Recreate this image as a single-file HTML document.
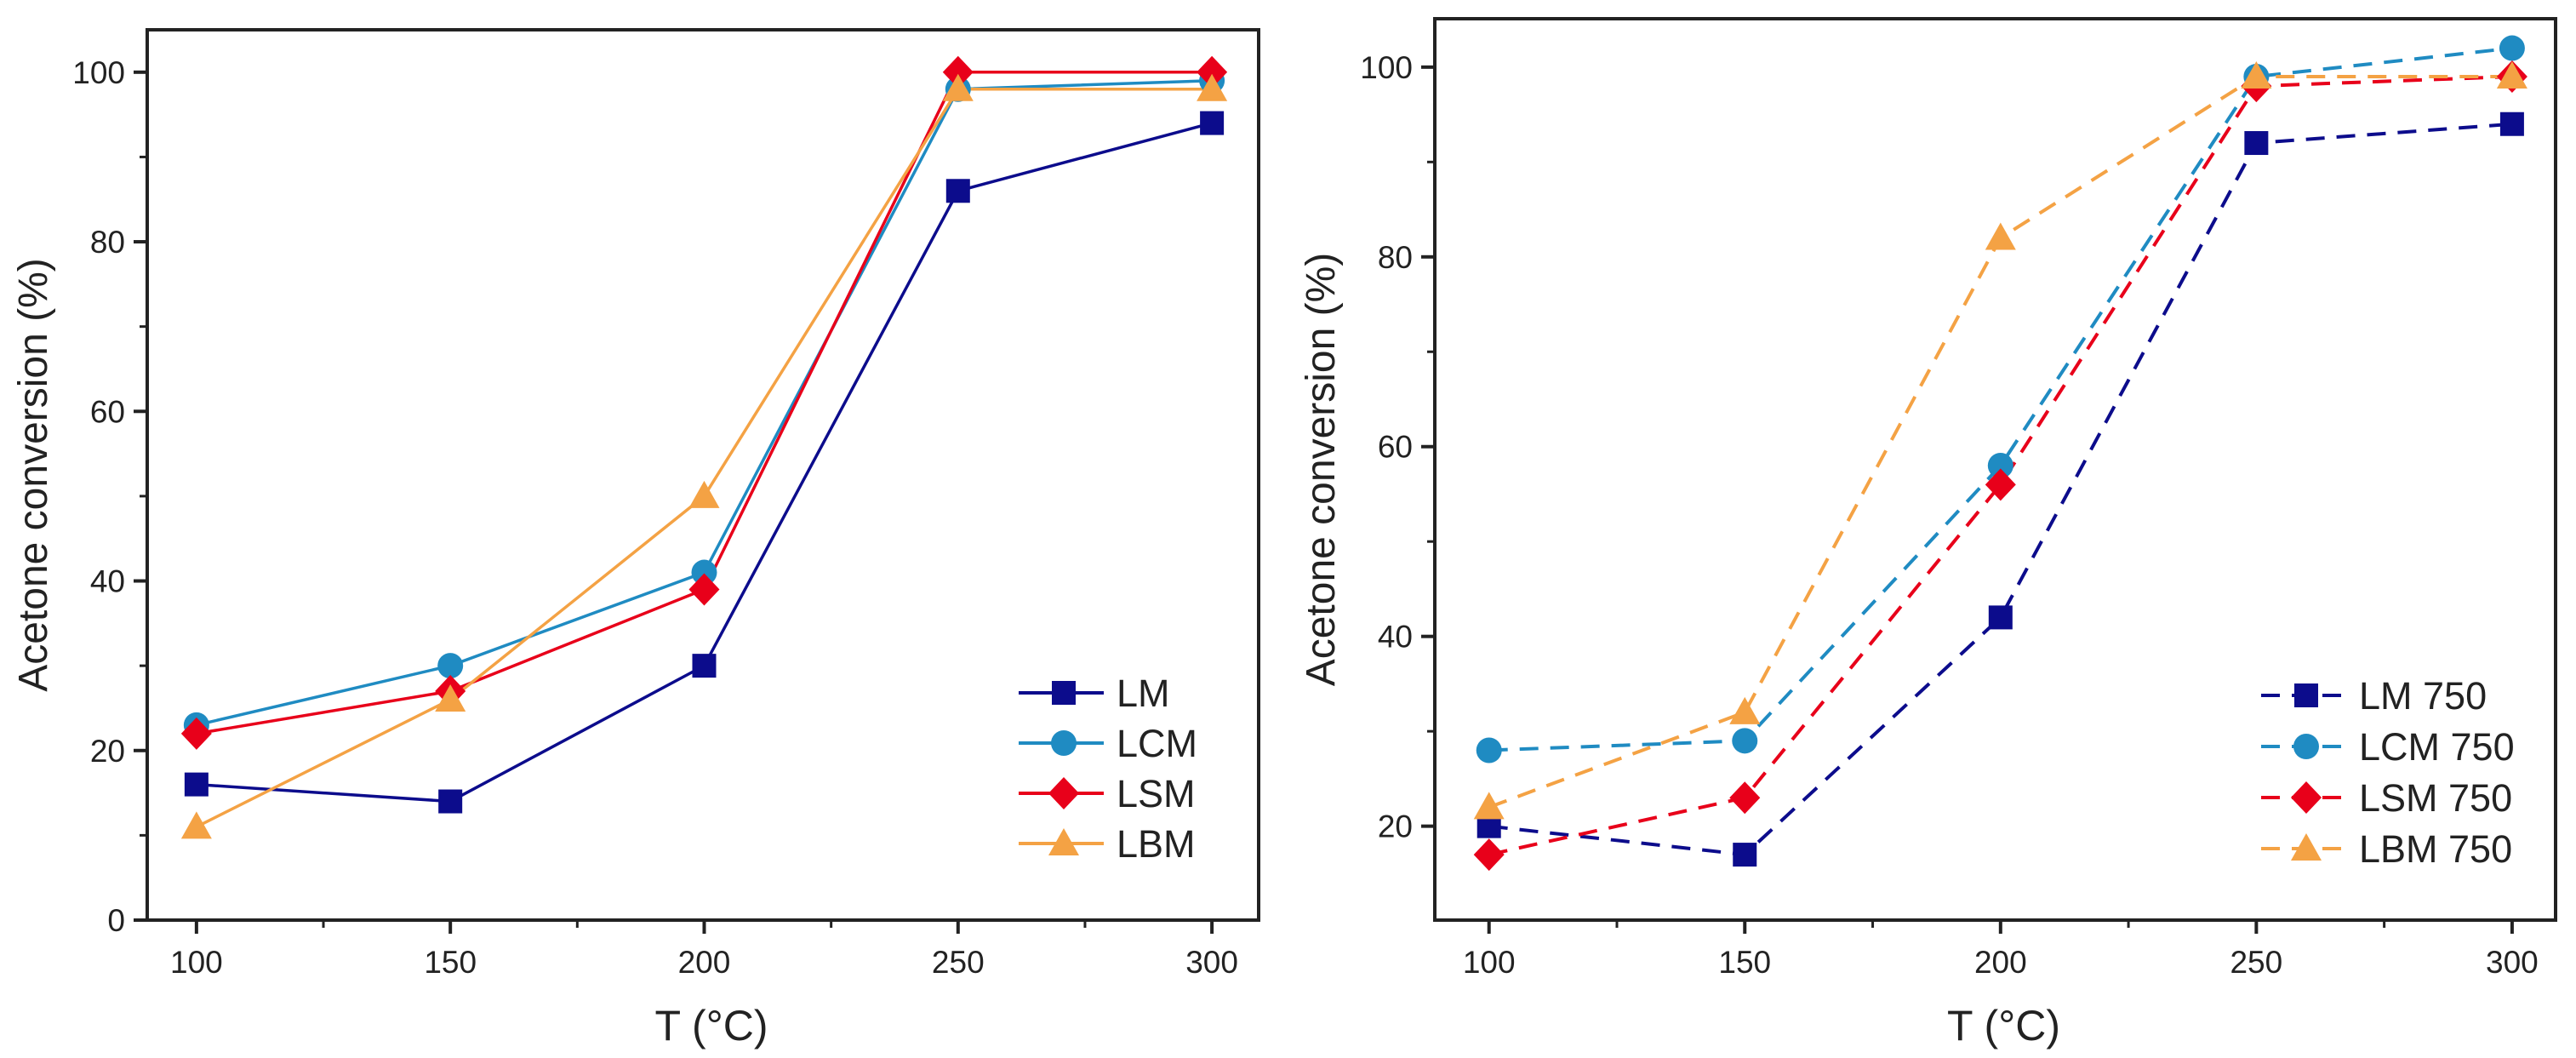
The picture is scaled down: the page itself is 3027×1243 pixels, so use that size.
<!DOCTYPE html>
<html><head><meta charset="utf-8"><style>
html,body{margin:0;padding:0;background:#fff;}
svg{display:block;font-family:"Liberation Sans",Arial,sans-serif;}
</style></head><body>
<svg id="fig" width="3027" height="1243" viewBox="0 0 3027 1243"></svg>
<script>
const xCats=[100,150,200,250,300];
const xTicks=[100,150,200,250,300];
const leftNames=["LM","LCM","LSM","LBM"];
const lmVals=[16,14,30,86,94];
const lcmVals=[23,30,41,98,99];
const lsmVals=[22,27,39,100,100];
const lbmVals=[11,26,50,98,98];
const rightNames=["LM 750","LCM 750","LSM 750","LBM 750"];
const lm750Vals=[20,17,42,92,94];
const lcm750Vals=[28,29,58,99,102];
const lsm750Vals=[17,23,56,98,99];
const lbm750Vals=[22,32,82,99,99];
const leftYTicks=[0,20,40,60,80,100];
const rightYTicks=[20,40,60,80,100];

const NS="http://www.w3.org/2000/svg";
const svg=document.getElementById('fig');
const colors=["#0c0c8c","#1f8bc2","#e8001a","#f4a244"];
const shapes=["square","circle","diamond","triangle"];
function mk(tag,attrs,parent){const e=document.createElementNS(NS,tag);for(const k in attrs)e.setAttribute(k,attrs[k]);(parent||svg).appendChild(e);return e;}

function marker(g,shape,x,y,c){
  let e;
  if(shape==="square"){e=mk('rect',{x:x-14,y:y-14,width:28,height:28,fill:c},g);}
  else if(shape==="circle"){e=mk('circle',{cx:x,cy:y,r:15,fill:c},g);}
  else if(shape==="diamond"){e=mk('polygon',{points:`${x},${y-19} ${x+18},${y} ${x},${y+19} ${x-18},${y}`,fill:c},g);}
  else {e=mk('polygon',{points:`${x},${y-18} ${x+18},${y+14} ${x-18},${y+14}`,fill:c},g);}
  return e;
}

function chart(cfg){
  const {L,R,T,B,xmin,xmax,ymin,ymax,yTicks,minorY,series,names,dash,legX,legY,legDy,name}=cfg;
  const g=mk('g',{});
  
  
  const sx=v=>L+(v-xmin)/(xmax-xmin)*(R-L);
  const sy=v=>B-(v-ymin)/(ymax-ymin)*(B-T);
  const frame=mk('rect',{x:L,y:T,width:R-L,height:B-T,fill:'none',stroke:'#222','stroke-width':4},g);
  
  
  // x ticks
  xTicks.forEach(v=>{
    mk('line',{x1:sx(v),x2:sx(v),y1:B,y2:B+16,stroke:'#222','stroke-width':4},g);
    const t=mk('text',{x:sx(v),y:B+62,'font-size':37,'text-anchor':'middle',fill:'#222'},g);
    t.textContent=v;
    
    
  });
  for(let i=0;i<xTicks.length-1;i++){const m=(xTicks[i]+xTicks[i+1])/2;mk('line',{x1:sx(m),x2:sx(m),y1:B,y2:B+9,stroke:'#222','stroke-width':3},g);}
  yTicks.forEach(v=>{
    mk('line',{x1:L-16,x2:L,y1:sy(v),y2:sy(v),stroke:'#222','stroke-width':4},g);
    const t=mk('text',{x:L-26,y:sy(v)+13,'font-size':37,'text-anchor':'end',fill:'#222'},g);
    t.textContent=v;
    
    
  });
  minorY.forEach(v=>{mk('line',{x1:L-9,x2:L,y1:sy(v),y2:sy(v),stroke:'#222','stroke-width':3},g);});
  const xt=mk('text',{x:(L+R)/2+10,y:1222,'font-size':50,'text-anchor':'middle',fill:'#222'},g);
  xt.textContent="T (°C)";
  
  
  const yt=mk('text',{x:0,y:0,'font-size':48,'text-anchor':'middle',fill:'#222',transform:`translate(${L-118},${(T+B)/2}) rotate(-90)`},g);
  yt.textContent="Acetone conversion (%)";
  
  
  series.forEach((vals,i)=>{
    const pts=vals.map((v,j)=>`${sx(xCats[j])},${sy(v)}`).join(' ');
    const pl=mk('polyline',{points:pts,fill:'none',stroke:colors[i],'stroke-width':dash?4:3.5,'stroke-dasharray':dash?'22 14':'none'},g);
    
    
  });
  series.forEach((vals,i)=>{
    vals.forEach((v,j)=>{
      const m=marker(g,shapes[i],sx(xCats[j]),sy(v),colors[i]);
      
      
    });
  });
  names.forEach((n,i)=>{
    const y=legY+i*legDy;
    const lg=mk('g',{},g);
    
    
    mk('line',{x1:legX,x2:legX+100,y1:y,y2:y,stroke:colors[i],'stroke-width':4,'stroke-dasharray':dash?'22 14':'none'},lg);
    marker(lg,shapes[i],legX+53,y,colors[i]);
    const t=mk('text',{x:legX+115,y:y+16,'font-size':45,fill:'#222'},lg);
    t.textContent=n;
  });
}

chart({name:'left-chart',L:173,R:1479,T:35,B:1081,xmin:90.3,xmax:309.2,ymin:0,ymax:105,
  yTicks:leftYTicks,minorY:[10,30,50,70,90],series:[lmVals,lcmVals,lsmVals,lbmVals],names:leftNames,dash:false,
  legX:1197,legY:814,legDy:59});
chart({name:'right-chart',L:1686,R:3003,T:22,B:1081,xmin:89.4,xmax:308.5,ymin:10.1,ymax:105.1,
  yTicks:rightYTicks,minorY:[30,50,70,90],series:[lm750Vals,lcm750Vals,lsm750Vals,lbm750Vals],names:rightNames,dash:true,
  legX:2657,legY:817,legDy:60});
</script>
</body></html>
